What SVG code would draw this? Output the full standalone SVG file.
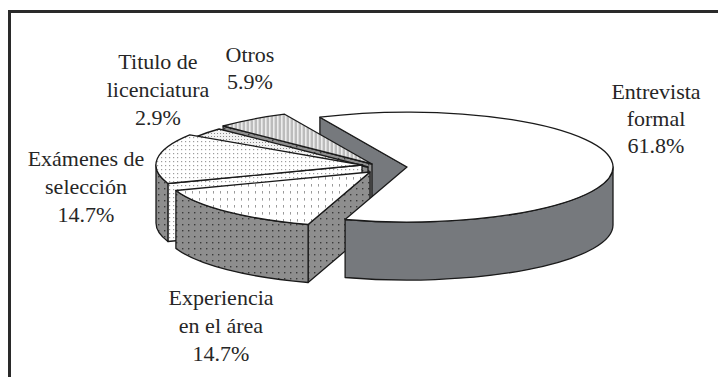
<svg xmlns="http://www.w3.org/2000/svg" width="718" height="377" viewBox="0 0 718 377">
<defs>
<style>
.e{stroke:#1a1a1a;stroke-width:1.3;stroke-linejoin:round}
.lbl{font-family:"Liberation Serif","Times New Roman",serif;font-size:22px;fill:#262626;text-anchor:middle}
.frame{stroke:#2a2a2a;stroke-width:3;fill:none}
</style>
<pattern id="pSide" width="6" height="6" patternUnits="userSpaceOnUse"><rect width="6" height="6" fill="#8e8e8e"/><rect x="2" y="2" width="1.4" height="1.4" fill="#3a3a3a"/></pattern>
<pattern id="pExp" width="7" height="7" patternUnits="userSpaceOnUse"><rect width="7" height="7" fill="#ffffff"/><rect x="3" y="2" width="1" height="2.6" fill="#9a9a9a"/></pattern>
<pattern id="pExa" width="4" height="4" patternUnits="userSpaceOnUse"><rect width="4" height="4" fill="#ffffff"/><rect x="1" y="1" width="1.2" height="1.2" fill="#9c9c9c"/></pattern>
<pattern id="pTit" width="3" height="3" patternUnits="userSpaceOnUse"><rect width="3" height="3" fill="#f2f2f2"/><rect x="1" y="1" width="1" height="1" fill="#8a8a8a"/></pattern>
<pattern id="pOtr" width="4" height="4" patternUnits="userSpaceOnUse"><rect width="4" height="4" fill="#bcbcbc"/><rect x="1" y="0" width="1.6" height="4" fill="#ececec"/></pattern>
</defs>
<rect width="718" height="377" fill="#ffffff"/>
<path class="frame" d="M9.5,377 L9.5,11.5 L718,11.5"/>

<g id="entrevista-cut-face">
<path class="e" fill="#76797d" d="M407,167 L319.9,117.2 L319.9,175.2 L407,225 Z"/>
</g>

<g id="slice-otros">
<path class="e" fill="url(#pSide)" d="M372,164 L223.1,126 L223.1,184 L372,222 Z"/>
<path class="e" fill="url(#pOtr)" d="M372,164 L223.1,126 A206 55 0 0 1 284.6,114.2 Z"/>
<text class="lbl" x="250" y="62">Otros</text>
<text class="lbl" x="250" y="89">5.9%</text>
</g>

<g id="slice-titulo">
<path class="e" fill="url(#pSide)" d="M368,167 L195.8,136.8 L195.8,194.8 L368,225 Z"/>
<path class="e" fill="url(#pTit)" d="M368,167 L195.8,136.8 A206 55 0 0 1 219.1,129 Z"/>
<text class="lbl" x="158" y="69">Titulo de</text>
<text class="lbl" x="158" y="97">licenciatura</text>
<text class="lbl" x="158" y="125">2.9%</text>
</g>

<g id="slice-examenes">
<path class="e" fill="url(#pExa)" d="M362,165 L167.9,183.5 L167.9,241.5 L362,223 Z"/>
<path class="e" fill="url(#pSide)" d="M167.9,183.5 A206 55 0 0 1 156,165 L156,223 A206 55 0 0 0 167.9,241.5 Z"/>
<path class="e" fill="url(#pExa)" d="M362,165 L167.9,183.5 A206 55 0 0 1 189.8,134.8 Z"/>
<text class="lbl" x="86" y="166">Exámenes de</text>
<text class="lbl" x="86" y="194">selección</text>
<text class="lbl" x="86" y="222">14.7%</text>
</g>

<g id="slice-experiencia">
<path class="e" fill="url(#pSide)" d="M370,172 L308.1,224.5 L308.1,282.5 L370,230 Z"/>
<path class="e" fill="url(#pSide)" d="M308.1,224.5 A206 55 0 0 1 175.9,190.5 L175.9,248.5 A206 55 0 0 0 308.1,282.5 Z"/>
<path class="e" fill="url(#pExp)" d="M370,172 L308.1,224.5 A206 55 0 0 1 175.9,190.5 Z"/>
<text class="lbl" x="221" y="305">Experiencia</text>
<text class="lbl" x="221" y="333">en el área</text>
<text class="lbl" x="221" y="361">14.7%</text>
</g>

<g id="slice-entrevista">
<path class="e" fill="#76797d" d="M613,167 A206 55 0 0 1 345.1,219.5 L345.1,277.5 A206 55 0 0 0 613,225 Z"/>
<path class="e" fill="#ffffff" d="M407,167 L319.9,117.2 A206 55 0 1 1 345.1,219.5 Z"/>
<text class="lbl" x="656" y="99">Entrevista</text>
<text class="lbl" x="656" y="126">formal</text>
<text class="lbl" x="656" y="153">61.8%</text>
</g>

<g id="connectors"></g>
</svg>
